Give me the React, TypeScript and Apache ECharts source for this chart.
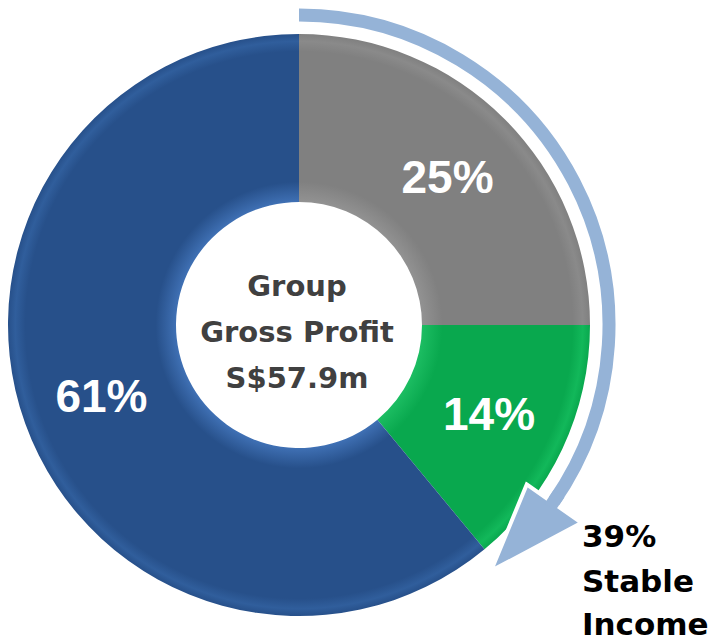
import React, { useEffect, useRef } from "react";
import * as echarts from "echarts";

const categories = ["Recurring A", "Recurring B", "Development"];
const shares = [25, 14, 61];
const centerLines = ["Group", "Gross Profit", "S$57.9m"];
const stableLines = ["39%", "Stable", "Income"];

const W = 721;
const H = 641;
const CX = 299;
const CY = 325;
const R_IN = 123;
const R_OUT = 291;

function radial(inner: string, base: string, edge: string) {
  const k = R_IN / R_OUT;
  return {
    type: "radial",
    x: CX,
    y: CY,
    r: R_OUT,
    global: true,
    colorStops: [
      { offset: 0, color: inner },
      { offset: k, color: inner },
      { offset: k + 0.07, color: base },
      { offset: 0.94, color: base },
      { offset: 0.975, color: edge },
      { offset: 1, color: base },
    ],
  };
}

const sliceColors = [
  radial("#929292", "#808080", "#8a8a8a"),
  radial("#1cbd62", "#09a84e", "#12b85a"),
  radial("#3f70b4", "#27508a", "#305e9c"),
];

export default function App() {
  const ref = useRef<HTMLDivElement>(null);
  useEffect(() => {
    if (!ref.current) return;
    const chart = echarts.init(ref.current, undefined, { renderer: "svg" });
    const deg = Math.PI / 180;
    const arcR = 310;
    const endA = 35 * deg;
    const tipA = 52 * deg;
    const p = (r: number, a: number) => [CX + r * Math.cos(a), CY + r * Math.sin(a)];
    const stableY = [536, 581, 624];
    chart.setOption({
      animation: false,
      series: [
        {
          type: "pie",
          center: [CX, CY],
          radius: [R_IN, R_OUT],
          startAngle: 90,
          clockwise: true,
          silent: true,
          label: {
            show: true,
            position: "inside",
            formatter: "{c}%",
            color: "#ffffff",
            fontSize: 46,
            fontWeight: "bold",
            fontFamily: "Liberation Sans, Arial, sans-serif",
          },
          labelLine: { show: false },
          itemStyle: { borderWidth: 0 },
          data: categories.map((name, i) => ({
            name,
            value: shares[i],
            itemStyle: { color: sliceColors[i] },
          })),
        },
      ],
      graphic: [
        {
          type: "arc",
          shape: { cx: CX, cy: CY, r: arcR, startAngle: -90 * deg, endAngle: endA, clockwise: true },
          style: { stroke: "#95b3d7", lineWidth: 13, fill: "none" },
          z: 10,
        },
        {
          type: "polygon",
          shape: { points: [p(278, endA), p(345, endA), p(arcR + 2, tipA)] },
          style: { fill: "#95b3d7", stroke: "#ffffff", lineWidth: 4, lineJoin: "miter" },
          z: 11,
        },
        {
          type: "polygon",
          shape: { points: [p(303.5, endA - 2 * deg), p(316.5, endA - 2 * deg), p(316.5, endA + 1 * deg), p(303.5, endA + 1 * deg)] },
          style: { fill: "#95b3d7" },
          z: 12,
        },
        {
          type: "text",
          x: CX - 2,
          y: 332,
          z: 20,
          style: {
            text: centerLines.join("\n"),
            align: "center",
            verticalAlign: "middle",
            fontSize: 29,
            fontWeight: "bold",
            fontFamily: "DejaVu Sans, sans-serif",
            lineHeight: 46,
            fill: "#404040",
          },
        },
        ...stableLines.map((t, i) => ({
          type: "text",
          x: 582,
          y: stableY[i],
          z: 20,
          style: {
            text: t,
            align: "left",
            verticalAlign: "middle",
            fontSize: 31,
            fontWeight: "bold",
            fontFamily: "DejaVu Sans, sans-serif",
            lineHeight: 30,
            fill: "#000000",
          },
        })),
      ],
    });
    return () => chart.dispose();
  }, []);
  return (
    <div
      ref={ref}
      style={{ position: "fixed", left: 0, top: 0, width: W, height: H, background: "#ffffff" }}
    />
  );
}
